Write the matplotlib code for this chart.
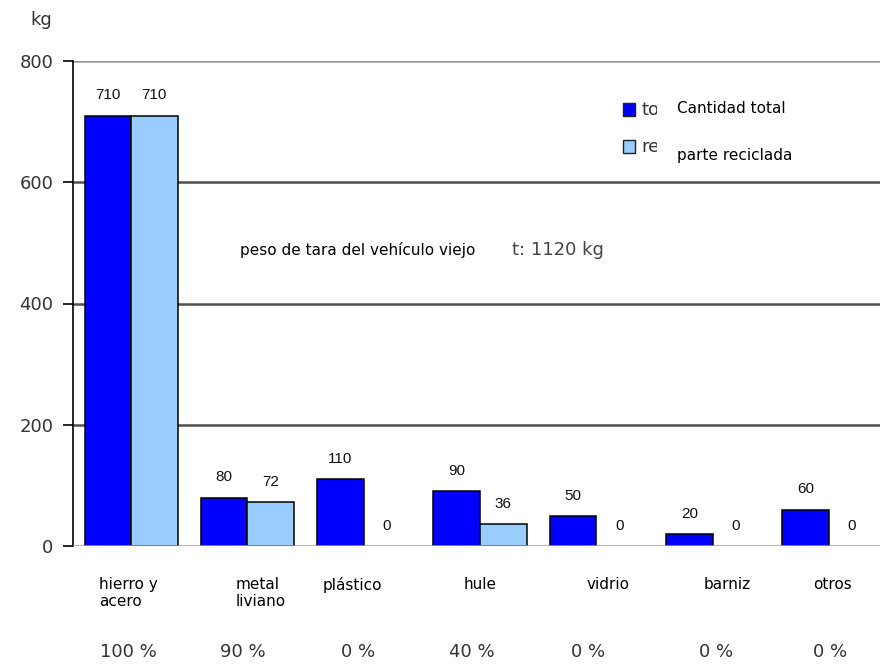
import matplotlib
matplotlib.use("Agg")
import matplotlib.pyplot as plt
import matplotlib.patches as mpatches
from matplotlib.transforms import Bbox
import numpy as np

categories = ["hierro y\nacero", "metal\nliviano", "plástico", "hule", "vidrio", "barniz", "otros"]
total = [710, 80, 110, 90, 50, 20, 60]
reciclada = [710, 72, 0, 36, 0, 0, 0]
porcentajes = ["100 %", "90 %", "0 %", "40 %", "0 %", "0 %", "0 %"]
yticks = [0, 200, 400, 600, 800]
legend_stubs = ["to", "re"]
legend_labels = ["Cantidad total", "parte reciclada"]

W, H = 880, 666
fig = plt.figure(figsize=(W / 100, H / 100), dpi=100)
ax = fig.add_axes([73 / W, 1 - 546 / H, 814 / W, 485 / H])

x = np.arange(len(categories))
bw = 0.40
dark = "#0000FF"
light = "#99CCFF"
b1 = ax.bar(x - bw / 2, total, bw, color=dark, edgecolor="black", linewidth=1.1, zorder=3)
b2 = ax.bar(x + bw / 2, reciclada, bw, color=light, edgecolor="black", linewidth=1.1, zorder=3)
for i, v in enumerate(reciclada):
    if v == 0:
        b2[i].set_visible(False)

for bars, vals in ((b1, total), (b2, reciclada)):
    for rect, v in zip(bars, vals):
        ax.annotate(str(v), (rect.get_x() + rect.get_width() / 2, v),
                    xytext=(0, 14.5), textcoords="offset points",
                    ha="center", va="center", fontsize=11,
                    family="Liberation Sans", color="#111111")

ax.set_xlim(-0.5, len(categories) - 0.5)
ax.set_ylim(0, 800)
ax.set_yticks(yticks)
ax.set_yticklabels([str(t) for t in yticks], fontsize=13, color="#333333")
ax.tick_params(axis="y", direction="out", length=7, width=1.2, color="black", pad=7)
ax.set_xticks([])
for s in ("top", "right", "bottom"):
    ax.spines[s].set_visible(False)
ax.spines["left"].set_linewidth(1.2)
ax.spines["left"].set_color("black")

for t in yticks:
    if t in (200, 400, 600):
        ax.axhline(t, color="#505050", lw=1.8, zorder=1)
    elif t == 800:
        ax.axhline(t, color="#999999", lw=1.8, zorder=1)
    else:
        ax.axhline(t, color="#a0a0a0", lw=1.8, zorder=4)

cat_off = [-0.02, 0.11, -0.10, 0.0, 0.10, 0.125, 0.03]
pct_off = [-0.02, -0.04, -0.05, -0.07, -0.07, 0.03, 0.01]
tr = ax.get_xaxis_transform()
for i, (c, p) in enumerate(zip(categories, porcentajes)):
    ax.text(x[i] + cat_off[i], -(577 - 546) / 485, c, transform=tr, ha="center", va="top",
            multialignment="left", fontsize=11, color="black", linespacing=1.15)
    ax.text(x[i] + pct_off[i], -(652 - 546) / 485, p, transform=tr, ha="center", va="center",
            fontsize=13, color="#333333")

def fx(px):
    return px / W

def fy(py):
    return 1 - py / H

fig.text(fx(30), fy(25), "kg", fontsize=13, color="#333333", va="baseline", ha="left")
fig.text(fx(240), fy(255), "peso de tara del vehículo viejo", fontsize=11, color="black",
         va="baseline", ha="left")
fig.text(fx(512), fy(255), "t: 1120 kg", fontsize=13, color="#444444", va="baseline", ha="left")

# legend squares with clipped stub labels, overlaid by the real labels
clip = Bbox([[638, 0], [657, H]])
for (y0, col, stub, lab, ly) in ((103, dark, legend_stubs[0], legend_labels[0], 113),
                                 (140, light, legend_stubs[1], legend_labels[1], 160)):
    fig.patches.append(mpatches.Rectangle((fx(623), fy(y0 + 13)), 12 / W, 13 / H,
                                          transform=fig.transFigure, facecolor=col,
                                          edgecolor="#222222", lw=1.0, zorder=3))
    t = fig.text(fx(641), fy(y0 + 12), stub, fontsize=13, color="#333333", va="baseline",
                 ha="left", zorder=3)
    t.set_clip_on(True)
    t.set_clip_box(clip)
    fig.text(fx(677), fy(ly), lab, fontsize=11, color="black", va="baseline",
             ha="left", zorder=5)

fig.savefig("out.png", dpi=100)
